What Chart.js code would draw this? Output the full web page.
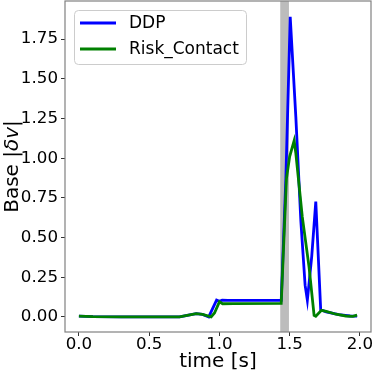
<!DOCTYPE html>
<html>
<head>
<meta charset="utf-8">
<script src="https://cdn.jsdelivr.net/npm/chart.js@4.4.1/dist/chart.umd.min.js"></script>
<style>
  html, body { margin: 0; padding: 0; background: #fff; }
  #wrap { width: 374px; height: 375px; }
</style>
</head>
<body>
<div id="wrap"><canvas id="c" width="374" height="375"></canvas></div>
<script>
// --- データ ---
const ddpTime = [0, 0.1, 0.3, 0.5, 0.716, 0.78, 0.835, 0.88, 0.924, 0.98, 1.0, 1.02, 1.06, 1.44, 1.473, 1.504, 1.544, 1.58, 1.61, 1.626, 1.657, 1.686, 1.721, 1.76, 1.85, 1.93, 1.98];
const ddpValues = [0.005, 0.002, 0.0, 0.0, 0.001, 0.012, 0.021, 0.016, 0.0, 0.106, 0.099, 0.106, 0.104, 0.104, 0.87, 1.89, 1.26, 0.6, 0.2, 0.105, 0.38, 0.726, 0.045, 0.032, 0.015, 0.006, 0.005];

const riskTime = [0, 0.1, 0.3, 0.5, 0.716, 0.78, 0.835, 0.88, 0.941, 0.965, 1.0, 1.023, 1.1, 1.44, 1.477, 1.5, 1.532, 1.544, 1.59, 1.638, 1.674, 1.686, 1.726, 1.76, 1.83, 1.9, 1.95, 1.98];
const riskValues = [0.005, 0.002, 0.0, 0.0, 0.001, 0.012, 0.021, 0.016, 0.0, 0.025, 0.095, 0.083, 0.084, 0.085, 0.87, 1.01, 1.11, 1.03, 0.63, 0.315, 0.01, 0.004, 0.042, 0.035, 0.017, 0.006, 0.004, 0.012];

const seriesNames = ['DDP', 'Risk_Contact'];
const xTicks = [0, 0.5, 1.0, 1.5, 2.0];
const xTickLabels = ['0.0', '0.5', '1.0', '1.5', '2.0'];
const yTicks = [0, 0.25, 0.5, 0.75, 1.0, 1.25, 1.5, 1.75];
const yTickLabels = ['0.00', '0.25', '0.50', '0.75', '1.00', '1.25', '1.50', '1.75'];
const contactSpan = [1.433, 1.495]; // グレーの区間

const FONT = 'DejaVu Sans';

// グレー区間 + 枠線 + y軸タイトル + 凡例
const spanPlugin = {
  id: 'span',
  beforeDatasetsDraw(chart) {
    const { ctx, chartArea: a, scales: { x } } = chart;
    const x0 = x.getPixelForValue(contactSpan[0]);
    const x1 = x.getPixelForValue(contactSpan[1]);
    ctx.save();
    ctx.fillStyle = '#bcbcbc';
    ctx.fillRect(x0, a.top, x1 - x0, a.bottom - a.top);
    ctx.restore();
  },
  afterDraw(chart) {
    const { ctx, chartArea: a } = chart;
    ctx.save();
    ctx.strokeStyle = '#808080';
    ctx.lineWidth = 1.2;
    ctx.strokeRect(a.left, a.top, a.right - a.left, a.bottom - a.top);

    // y軸タイトル (Base |δv|)
    ctx.translate(13, (a.top + a.bottom) / 2);
    ctx.rotate(-Math.PI / 2);
    ctx.fillStyle = '#000';
    ctx.textBaseline = 'middle';
    const parts = [
      ['Base |', `20px "${FONT}"`],
      ['δv', `italic 20px "${FONT}"`],
      ['|', `20px "${FONT}"`]
    ];
    let total = 0;
    parts.forEach(p => { ctx.font = p[1]; total += ctx.measureText(p[0]).width; });
    let cx = -total / 2;
    parts.forEach(p => {
      ctx.font = p[1];
      ctx.fillText(p[0], cx, 0);
      cx += ctx.measureText(p[0]).width;
    });
    ctx.restore();

    // 凡例
    ctx.save();
    const bx = 74, by = 10, bw = 172, bh = 54, r = 4;
    ctx.globalAlpha = 0.8;
    ctx.fillStyle = '#fff';
    ctx.strokeStyle = '#cccccc';
    ctx.lineWidth = 1;
    ctx.beginPath();
    ctx.roundRect(bx + 0.5, by + 0.5, bw, bh, r);
    ctx.fill();
    ctx.globalAlpha = 1;
    ctx.stroke();
    ctx.font = `17px "${FONT}"`;
    ctx.textBaseline = 'middle';
    chart.data.datasets.forEach((ds, i) => {
      const ly = 23 + i * 26;
      ctx.strokeStyle = ds.borderColor;
      ctx.lineWidth = ds.borderWidth;
      ctx.beginPath();
      ctx.moveTo(80, ly);
      ctx.lineTo(116, ly);
      ctx.stroke();
      ctx.fillStyle = '#000';
      ctx.fillText(ds.label, 129, ly + 1);
    });
    ctx.restore();
  }
};

new Chart(document.getElementById('c'), {
  type: 'line',
  data: {
    datasets: [
      {
        label: seriesNames[0],
        data: ddpTime.map((t, i) => ({ x: t, y: ddpValues[i] })),
        borderColor: '#0000ff',
        borderWidth: 2.8,
        pointRadius: 0,
        tension: 0,
        order: 1
      },
      {
        label: seriesNames[1],
        data: riskTime.map((t, i) => ({ x: t, y: riskValues[i] })),
        borderColor: '#008000',
        borderWidth: 2.8,
        pointRadius: 0,
        tension: 0,
        order: 0
      }
    ]
  },
  options: {
    responsive: false,
    animation: false,
    layout: { padding: { top: 1, right: 3, left: 0, bottom: 0 } },
    plugins: { legend: { display: false }, tooltip: { enabled: false } },
    scales: {
      x: {
        type: 'linear',
        min: -0.099,
        max: 2.079,
        afterBuildTicks: s => { s.ticks = xTicks.map(v => ({ value: v })); },
        afterFit: s => { s.height = 43; s.paddingLeft = 0; s.paddingRight = 0; },
        grid: { drawOnChartArea: false, tickLength: 4, color: '#000', tickColor: '#333' },
        border: { display: false },
        ticks: {
          autoSkip: false,
          maxRotation: 0,
          padding: -1,
          color: '#000',
          font: { family: FONT, size: 16.7 },
          callback: (v, i) => xTickLabels[i]
        },
        title: {
          display: true,
          text: 'time [s]',
          color: '#000',
          font: { family: FONT, size: 20 },
          padding: { top: 0, bottom: 1 }
        }
      },
      y: {
        min: -0.0948,
        max: 1.99,
        afterBuildTicks: s => { s.ticks = yTicks.map(v => ({ value: v })); },
        afterFit: s => { s.width = 65; s.paddingTop = 0; s.paddingBottom = 0; },
        grid: { drawOnChartArea: false, tickLength: 4, color: '#000', tickColor: '#333' },
        border: { display: false },
        ticks: {
          autoSkip: false,
          padding: 3,
          color: '#000',
          font: { family: FONT, size: 16.7 },
          callback: (v, i) => yTickLabels[i]
        }
      }
    }
  },
  plugins: [spanPlugin]
});
</script>
</body>
</html>
